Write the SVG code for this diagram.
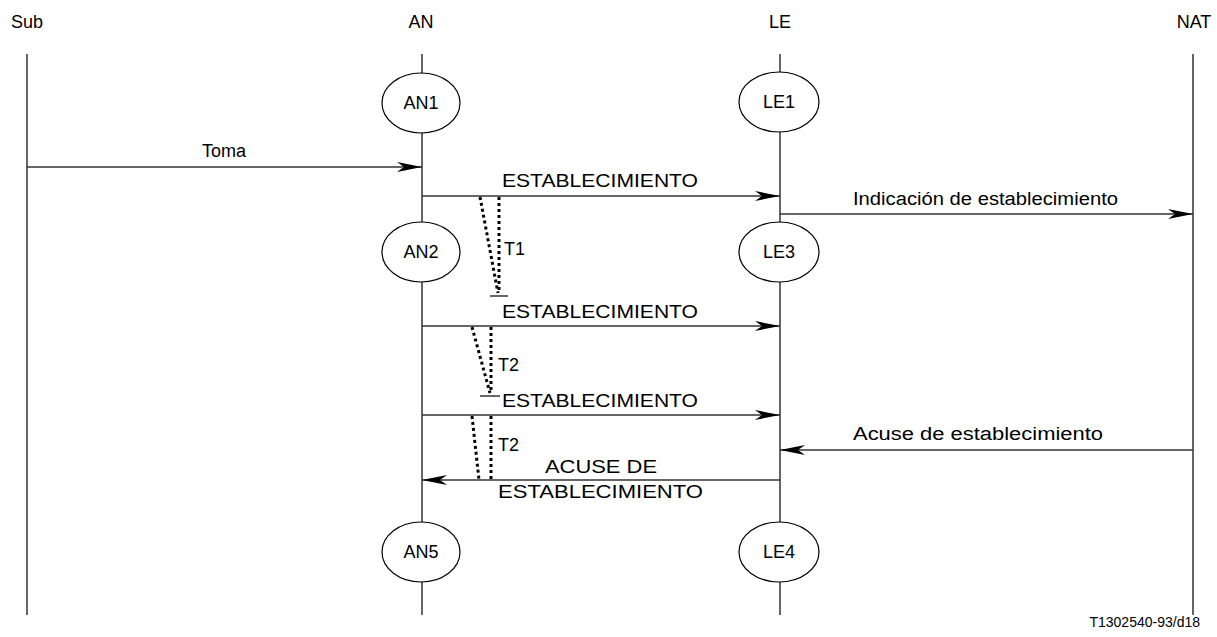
<svg xmlns="http://www.w3.org/2000/svg" width="1217" height="637" viewBox="0 0 1217 637">
<defs>
<style>
text{font-family:"Liberation Sans",Arial,sans-serif;font-size:18px;fill:#000}
.life{stroke:#333;stroke-width:1.5;fill:none}
.msg{stroke:#333;stroke-width:1.5;fill:none;marker-end:url(#ah)}
.node ellipse{fill:#fff;stroke:#000;stroke-width:1.2}
.dot{stroke:#000;stroke-width:3;stroke-dasharray:3 3;fill:none}
.tick{stroke:#000;stroke-width:1.2}
.c{text-anchor:middle}
</style>
<marker id="ah" markerUnits="userSpaceOnUse" markerWidth="26" markerHeight="12" refX="25" refY="6" orient="auto">
<path d="M0,1 L25,6 L0,11 L7,6 z" fill="#000"/>
</marker>
</defs>
<rect width="1217" height="637" fill="#fff"/>
<g id="headers">
<text x="27" y="28" class="c">Sub</text>
<text x="421" y="28" class="c">AN</text>
<text x="780" y="28" class="c">LE</text>
<text x="1194" y="28" class="c">NAT</text>
</g>
<g id="lifelines">
<line class="life" x1="27" y1="54" x2="27" y2="615"/>
<line class="life" x1="422" y1="54" x2="422" y2="615"/>
<line class="life" x1="780" y1="54" x2="780" y2="615"/>
<line class="life" x1="1193" y1="54" x2="1193" y2="615"/>
</g>
<g id="connectors">
<line class="msg" x1="27" y1="167" x2="422" y2="167"/>
<text x="224" y="157" class="c">Toma</text>
<line class="msg" x1="422" y1="196" x2="780" y2="196"/>
<text x="502" y="187" textLength="196" lengthAdjust="spacingAndGlyphs">ESTABLECIMIENTO</text>
<line class="msg" x1="780" y1="214" x2="1193" y2="214"/>
<text x="853" y="205" textLength="265" lengthAdjust="spacingAndGlyphs">Indicación de establecimiento</text>
<line class="msg" x1="422" y1="326" x2="780" y2="326"/>
<text x="502" y="318" textLength="196" lengthAdjust="spacingAndGlyphs">ESTABLECIMIENTO</text>
<line class="msg" x1="422" y1="415" x2="780" y2="415"/>
<text x="502" y="407" textLength="196" lengthAdjust="spacingAndGlyphs">ESTABLECIMIENTO</text>
<line class="msg" x1="1193" y1="450" x2="780" y2="450"/>
<text x="853" y="440" textLength="250" lengthAdjust="spacingAndGlyphs">Acuse de establecimiento</text>
<line class="msg" x1="780" y1="480" x2="422" y2="480"/>
<text x="545" y="473" textLength="112" lengthAdjust="spacingAndGlyphs">ACUSE DE</text>
<text x="498" y="498" textLength="205" lengthAdjust="spacingAndGlyphs">ESTABLECIMIENTO</text>
</g>
<g id="timer-T1">
<line class="dot" x1="480" y1="197" x2="498" y2="293"/>
<line class="dot" x1="499" y1="197" x2="499" y2="293"/>
<line class="tick" x1="490" y1="296" x2="508" y2="296"/>
<text x="504" y="255">T1</text>
</g>
<g id="timer-T2a">
<line class="dot" x1="472" y1="327" x2="490" y2="393"/>
<line class="dot" x1="491" y1="327" x2="491" y2="393"/>
<line class="tick" x1="480" y1="396" x2="500" y2="396"/>
<text x="498" y="371">T2</text>
</g>
<g id="timer-T2b">
<line class="dot" x1="472" y1="416" x2="479" y2="480"/>
<line class="dot" x1="491" y1="416" x2="491" y2="480"/>
<text x="498" y="451">T2</text>
</g>
<g id="AN1" class="node"><ellipse cx="421" cy="103" rx="39" ry="30"/><text x="421" y="109" class="c">AN1</text></g>
<g id="LE1" class="node"><ellipse cx="779" cy="102" rx="40" ry="30"/><text x="779" y="108" class="c">LE1</text></g>
<g id="AN2" class="node"><ellipse cx="421" cy="252" rx="39" ry="30"/><text x="421" y="258" class="c">AN2</text></g>
<g id="LE3" class="node"><ellipse cx="779" cy="252" rx="40" ry="30"/><text x="779" y="258" class="c">LE3</text></g>
<g id="AN5" class="node"><ellipse cx="421" cy="552" rx="39" ry="30"/><text x="421" y="558" class="c">AN5</text></g>
<g id="LE4" class="node"><ellipse cx="779" cy="552" rx="40" ry="30"/><text x="779" y="558" class="c">LE4</text></g>
<text x="1200" y="627" style="font-size:14px;text-anchor:end">T1302540-93/d18</text>
</svg>
